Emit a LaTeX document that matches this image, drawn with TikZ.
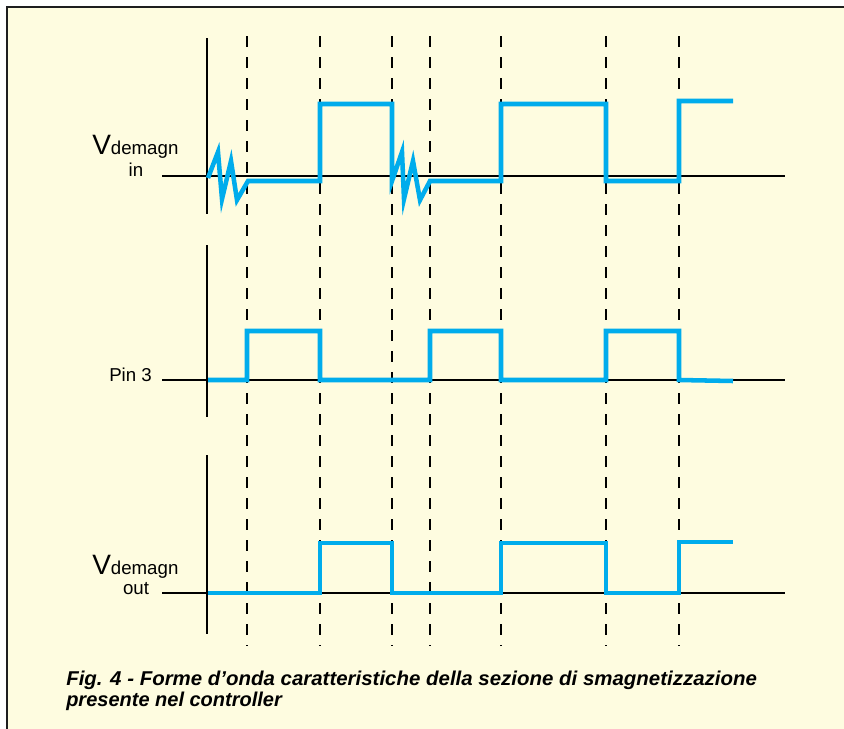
\documentclass[tikz,border=0pt]{standalone}
\usepackage{fontspec}
\usepackage{graphicx}
\setmainfont{Liberation Sans}
\definecolor{cream}{RGB}{254,252,224}
\definecolor{wave}{RGB}{0,172,236}
\definecolor{frame}{RGB}{30,30,30}
\begin{document}
\begin{tikzpicture}[x=0.75pt,y=-0.75pt,
  axisline/.style={line width=1.6pt,black},
  baseline/.style={line width=1.5pt,black},
  guide/.style={line width=0.9pt,black,dash pattern=on 8.25pt off 7.5pt},
  signal/.style={line width=3.4pt,wave,line join=miter,line cap=butt},
  lbl/.style={inner sep=0pt,anchor=base west,font=\fontsize{14}{15}\selectfont},
  bigv/.style={inner sep=0pt,anchor=base west},
  caption/.style={inner sep=0pt,anchor=base west,font=\fontsize{15}{17}\selectfont\bfseries\itshape}]
\useasboundingbox (0,0) rectangle (844,729);
\fill[white] (0,0) rectangle (844,729);
\fill[cream] (7,7) rectangle (844,729);
\draw[frame,line width=1.6pt] (7,729) -- (7,7) -- (844,7);
% dashed guides
\foreach \gx in {247,320,392,430,501,606,679}
  \draw[guide] (\gx,36) -- (\gx,646);
% axes
\draw[axisline] (207,38) -- (207,214);
\draw[axisline] (207,245) -- (207,417);
\draw[axisline] (207,455) -- (207,634);
% baselines
\draw[baseline] (162,176) -- (785,176);
\draw[baseline] (162,380) -- (785,380);
\draw[baseline] (162,593) -- (785,593);
% signals
\draw[signal] (208,178) -- (218,152) -- (222,199) -- (231,161) -- (237,200) -- (248,181)
  -- (320,181) -- (320,104) -- (392,104) -- (392,181) -- (402,152) -- (404,199)
  -- (413,161) -- (420,200) -- (430,181) -- (501,181) -- (501,104) -- (606,104)
  -- (606,181) -- (679,181) -- (679,101) -- (733,101);
\draw[signal] (208,380) -- (247,380) -- (247,331) -- (320,331) -- (320,380)
  -- (430,380) -- (430,331) -- (501,331) -- (501,380) -- (606,380) -- (606,331)
  -- (679,331) -- (679,380) -- (733,381);
\draw[signal] (208,593) -- (320,593) -- (320,543) -- (392,543) -- (392,593)
  -- (501,593) -- (501,543) -- (606,543) -- (606,593) -- (679,593) -- (679,542) -- (733,542);
% labels
\node[bigv] (vin) at (92,154) {{\fontsize{21}{22}\selectfont V}{\fontsize{14}{15}\selectfont demagn}};
\node[lbl,anchor=base] (in) at (136,176) {in};
\node[lbl] (pin) at (109,381) {Pin 3};
\node[bigv] (vout) at (92,574) {{\fontsize{21}{22}\selectfont V}{\fontsize{14}{15}\selectfont demagn}};
\node[lbl,anchor=base] (out) at (136,594) {out};
\node[caption] (cap1) at (66,685) {\resizebox{518pt}{\height}{Fig. 4 - Forme d’onda caratteristiche della sezione di smagnetizzazione}};
\node[caption] (cap2) at (66,706) {presente nel controller};
\end{tikzpicture}
\end{document}
